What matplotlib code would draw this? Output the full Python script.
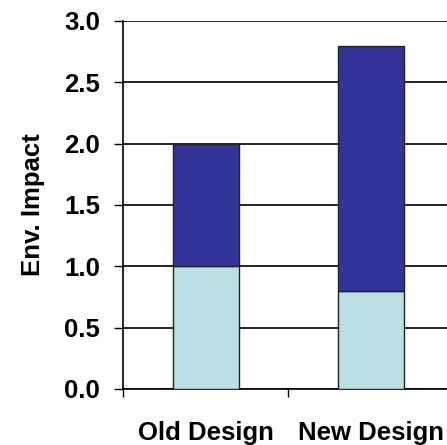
import matplotlib.pyplot as plt
from matplotlib.ticker import FixedLocator

# Chart data
designs = ["Old Design", "New Design"]
lower = [1.0, 0.8]
upper = [1.0, 2.0]
yticks = [0.0, 0.5, 1.0, 1.5, 2.0, 2.5, 3.0]

plt.rcParams["font.family"] = ["Liberation Sans", "DejaVu Sans"]

fig = plt.figure(figsize=(4.47, 4.45), dpi=100)
# axes runs a little past the right edge of the picture, like the reference
ax = fig.add_axes([123 / 447, 56 / 445, 330 / 447, 368 / 445])

pos = [i + 0.5 for i in range(len(designs))]
ax.bar(pos, lower, width=0.4, color="#BBE0E3", edgecolor="#222222", linewidth=1, zorder=3)
ax.bar(pos, upper, width=0.4, bottom=lower, color="#333399", edgecolor="#222222", linewidth=1, zorder=3)

ax.set_xlim(0, len(designs))
ax.set_ylim(0, 3.0)
ax.set_yticks(yticks)
ax.set_yticklabels([f"{v:.1f}" for v in yticks], fontweight="bold", fontsize=18.5)
ax.yaxis.grid(True, color="black", linewidth=1.2, zorder=0)

ax.set_xticks(pos)
ax.set_xticklabels(designs, fontweight="bold", fontsize=18.5)
ax.xaxis.set_minor_locator(FixedLocator(range(len(designs) + 1)))
ax.tick_params(axis="x", which="major", length=0, pad=23)
ax.tick_params(axis="x", which="minor", length=6, width=1, direction="out")
ax.tick_params(axis="y", length=6.5, width=1, pad=10)

for s in ["top", "right"]:
    ax.spines[s].set_visible(False)
ax.spines["left"].set_linewidth(1.2)
ax.spines["bottom"].set_linewidth(1.2)

fig.text(33 / 447, 1 - 205 / 445, "Env. Impact", rotation=90, ha="center", va="center",
         fontsize=18.5, fontweight="bold")

fig.savefig("out.png", dpi=100)
